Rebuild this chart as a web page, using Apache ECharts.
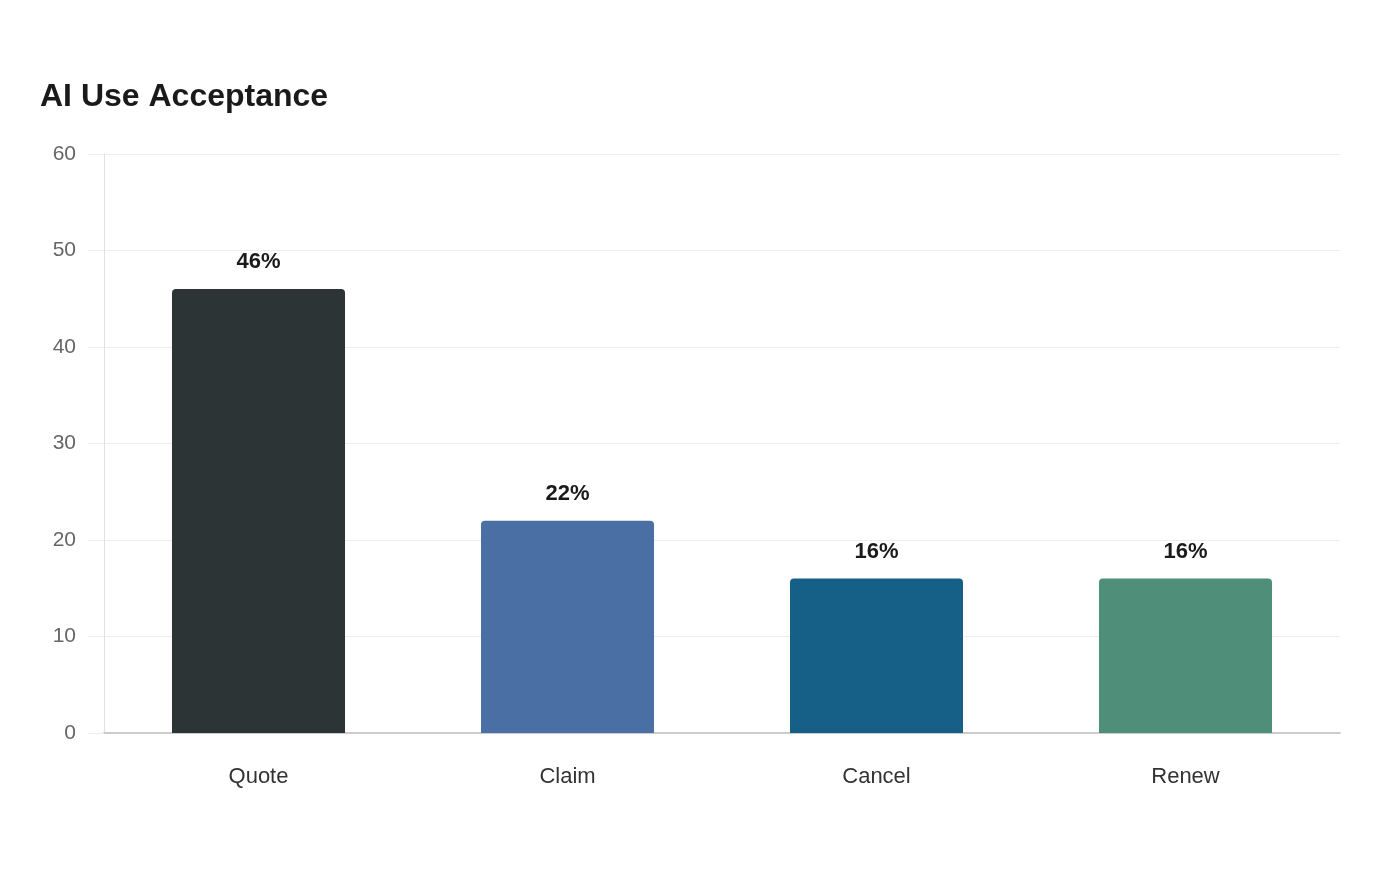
<!DOCTYPE html>
<html>
<head>
<meta charset="utf-8">
<title>AI Use Acceptance</title>
<script src="https://cdn.jsdelivr.net/npm/echarts@6/dist/echarts.min.js"></script>
<style>
  html, body { margin: 0; padding: 0; background: #fff; }
  #main { width: 1400px; height: 880px; }
</style>
</head>
<body>
<div id="main"></div>
<script>
var categories = ['Quote', 'Claim', 'Cancel', 'Renew'];
var values = [46, 22, 16, 16];
var barColors = ['#2d3436', '#4a6fa5', '#166088', '#4f8f7a'];

var myChart = echarts.init(document.getElementById('main'));

var option = {
    backgroundColor: '#ffffff',
    title: {
        text: 'AI Use Acceptance',
        left: 35,
        top: 76,
        textStyle: {
            fontFamily: 'Liberation Sans',
            fontSize: 32,
            fontWeight: 'bold',
            color: '#1a1a1a'
        }
    },
    grid: {
        left: 104,
        right: 60,
        top: 154,
        bottom: 147,
        containLabel: false
    },
    xAxis: {
        type: 'category',
        data: categories,
        axisTick: { show: false },
        axisLine: {
            show: true,
            lineStyle: { color: '#cccccc', width: 2 }
        },
        axisLabel: {
            color: '#333333',
            fontFamily: 'Liberation Sans',
            fontSize: 22,
            margin: 33
        }
    },
    yAxis: {
        type: 'value',
        min: 0,
        max: 60,
        interval: 10,
        axisLine: {
            show: true,
            lineStyle: { color: '#e0e0e0', width: 1 }
        },
        axisTick: {
            show: true,
            length: 16,
            lineStyle: { color: '#eeeeee' }
        },
        axisLabel: {
            color: '#666666',
            fontFamily: 'Liberation Sans',
            fontSize: 21,
            margin: 28,
            padding: [2, 0, 0, 0]
        },
        splitLine: {
            show: true,
            lineStyle: { color: '#eeeeee', width: 1 }
        }
    },
    series: [{
        type: 'bar',
        barWidth: '56%',
        data: values.map(function (v, i) {
            return { value: v, itemStyle: { color: barColors[i] } };
        }),
        itemStyle: {
            borderRadius: [4, 4, 0, 0]
        },
        label: {
            show: true,
            position: 'top',
            distance: 16,
            formatter: '{c}%',
            color: '#1a1a1a',
            fontFamily: 'Liberation Sans',
            fontWeight: 'bold',
            fontSize: 22
        }
    }]
};

myChart.setOption(option);

window.addEventListener('resize', function () {
    myChart.resize();
});
</script>
</body>
</html>
